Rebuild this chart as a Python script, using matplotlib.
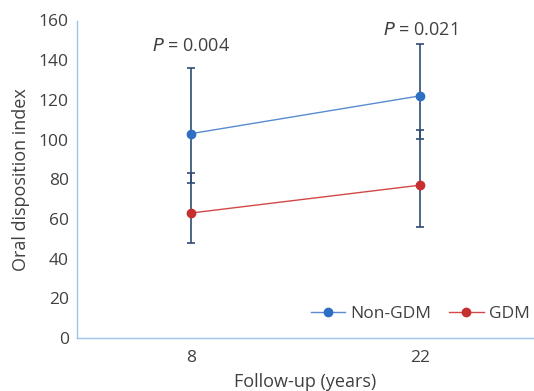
import matplotlib.pyplot as plt
import numpy as np

plt.rcParams['font.family'] = ['Open Sans', 'DejaVu Sans']

# data
years = ['8', '22']
non_gdm = [103, 122]
non_gdm_up = [33, 26]
non_gdm_down = [25, 21.5]
gdm = [63, 77]
gdm_up = [20, 28]
gdm_down = [15, 21]
p_labels = ['0.004', '0.021']
p_heights = [147, 155]

x = np.arange(len(years))
spine_col = '#9dc3e6'
text_col = '#404040'
err_col = '#2f4b73'

fig = plt.figure(figsize=(5.34, 3.91), dpi=100)
ax = fig.add_axes([77/534, 1 - 338/391, 1 - 77/534, (338 - 20.5)/391])

ax.errorbar(x, non_gdm, yerr=[non_gdm_down, non_gdm_up], fmt='none',
            ecolor=err_col, elinewidth=1.2, capsize=3, capthick=1.2, zorder=2)
ax.errorbar(x, gdm, yerr=[gdm_down, gdm_up], fmt='none',
            ecolor=err_col, elinewidth=1.2, capsize=3, capthick=1.2, zorder=2)
ax.plot(x, non_gdm, color='#5a8ad0', lw=1, marker='o', ms=6,
        mfc='#2e6fc4', mec='#2e6fc4', label='Non-GDM', zorder=3)
ax.plot(x, gdm, color='#d24848', lw=1, marker='o', ms=6,
        mfc='#c62f2f', mec='#c62f2f', label='GDM', zorder=3)

for xi, p, h in zip(x, p_labels, p_heights):
    ax.text(xi, h, r'$P$ = ' + p, ha='center', va='center',
            fontsize=13, color=text_col)

ax.set_xlim(-0.5, 1.5)
ax.set_ylim(0, 160)
ax.set_yticks(np.arange(0, 161, 20))
ax.set_xticks(x)
ax.set_xticklabels(years)
ax.tick_params(length=0, labelsize=12.5, colors=text_col)
ax.tick_params(axis='y', pad=6)
ax.tick_params(axis='x', pad=9)

for s in ['top', 'right']:
    ax.spines[s].set_visible(False)
for s in ['left', 'bottom']:
    ax.spines[s].set_color(spine_col)
    ax.spines[s].set_linewidth(1)

ax.set_ylabel('Oral disposition index', fontsize=13, color=text_col, labelpad=6)
ax.set_xlabel('Follow-up (years)', fontsize=13, color=text_col, labelpad=5)

ax.legend(loc='lower right', ncol=2, frameon=False, fontsize=12.5,
          handlelength=2, handletextpad=0.3, columnspacing=1.0,
          bbox_to_anchor=(1.025, 0.0), labelcolor=text_col)

fig.savefig('out.png', dpi=100)
